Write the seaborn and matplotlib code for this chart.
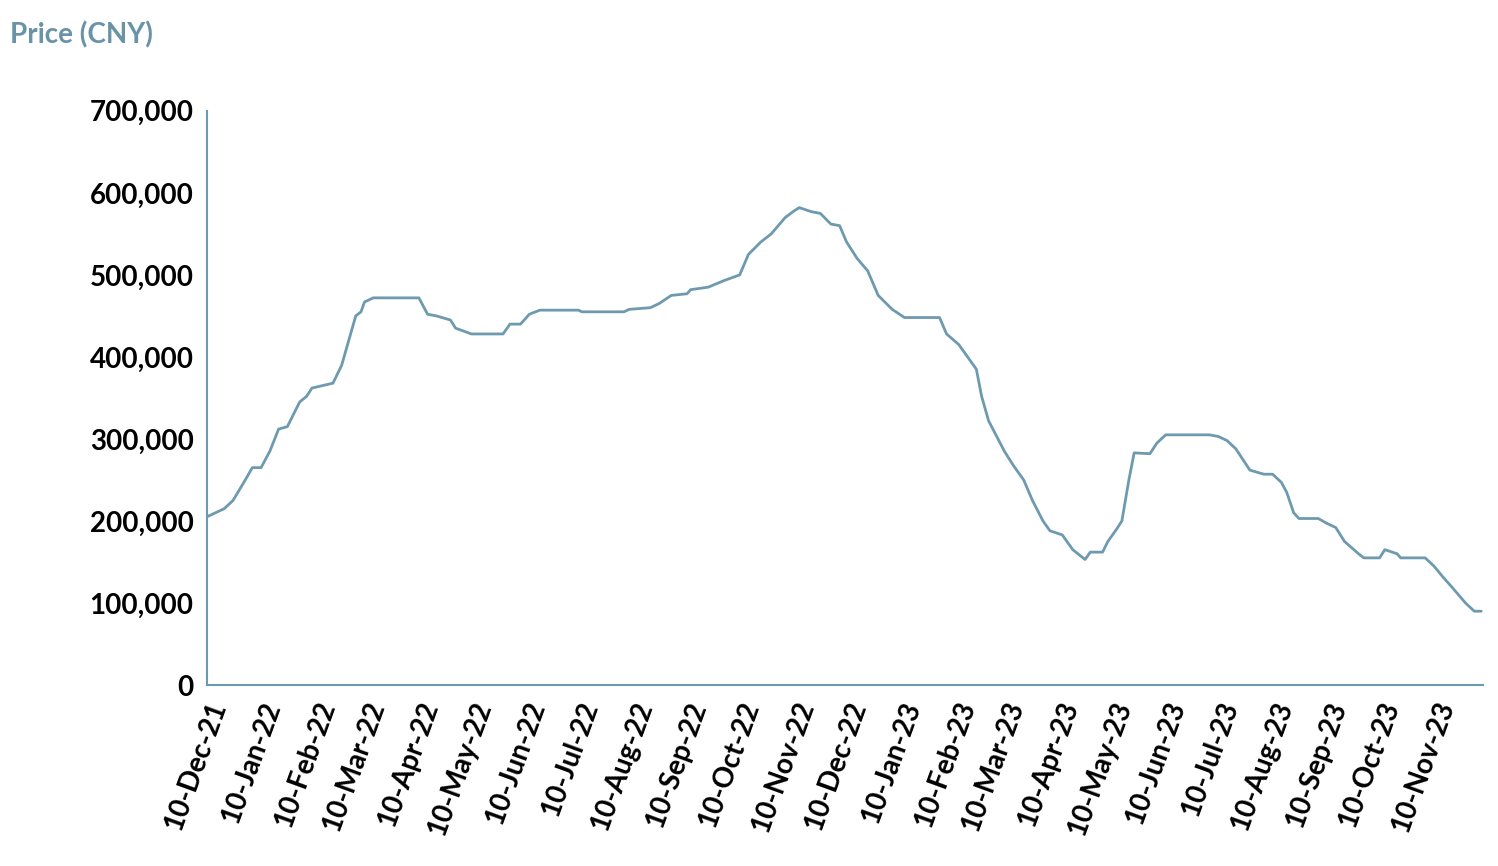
import matplotlib
matplotlib.use("Agg")
import matplotlib.pyplot as plt
import matplotlib.dates as mdates
import seaborn as sns
import pandas as pd

dates = ["2021-12-10","2021-12-20","2021-12-25","2022-01-01","2022-01-05","2022-01-10","2022-01-15","2022-01-20","2022-01-25",
"2022-02-01","2022-02-05","2022-02-08","2022-02-20","2022-02-25","2022-03-01","2022-03-05","2022-03-08","2022-03-10","2022-03-15",
"2022-04-10","2022-04-15","2022-04-20","2022-04-28","2022-05-01","2022-05-10","2022-05-28","2022-06-01","2022-06-07","2022-06-12",
"2022-06-18","2022-07-10","2022-07-12","2022-08-05","2022-08-08","2022-08-20","2022-08-25","2022-09-01","2022-09-10","2022-09-12",
"2022-09-22","2022-10-01","2022-10-10","2022-10-15","2022-10-22","2022-10-28","2022-11-05","2022-11-10","2022-11-13","2022-11-20",
"2022-11-25","2022-12-01","2022-12-06","2022-12-10","2022-12-16","2022-12-22","2022-12-28","2023-01-05","2023-01-12","2023-02-01",
"2023-02-05","2023-02-12","2023-02-17","2023-02-22","2023-02-25","2023-03-01","2023-03-10","2023-03-15","2023-03-21","2023-03-26",
"2023-04-01","2023-04-05","2023-04-12","2023-04-18","2023-04-25","2023-04-28","2023-05-05","2023-05-08","2023-05-13","2023-05-16",
"2023-05-20","2023-05-23","2023-06-01","2023-06-05","2023-06-10","2023-07-05","2023-07-10","2023-07-15","2023-07-20","2023-07-28",
"2023-08-05","2023-08-10","2023-08-15","2023-08-18","2023-08-22","2023-08-25","2023-09-05","2023-09-10","2023-09-15","2023-09-20",
"2023-09-28","2023-10-01","2023-10-10","2023-10-13","2023-10-20","2023-10-22","2023-11-05","2023-11-10","2023-11-15","2023-11-20",
"2023-11-28","2023-12-03","2023-12-07"]
prices = [205,215,225,250,265,265,285,312,315,
345,352,362,368,390,420,450,455,467,472,
472,452,450,445,435,428,428,440,440,452,
457,457,455,455,458,460,465,475,477,482,
485,493,500,525,540,550,570,578,582,577,
575,562,560,540,520,505,475,458,448,448,
428,415,400,385,352,322,285,268,250,225,
200,188,183,165,153,162,162,175,190,200,
250,283,282,295,305,305,303,298,288,262,
257,257,247,235,210,203,203,197,192,175,
160,155,155,165,160,155,155,145,132,120,
100,90,90]

df = pd.DataFrame({"date": pd.to_datetime(dates), "price": [p*1000 for p in prices]})
c = "#6E9AAF"
sns.set_style("white")
plt.rcParams['font.family'] = ['Lato', 'DejaVu Sans']
fig = plt.figure(figsize=(14.98, 8.66), dpi=100)
ax = fig.add_axes([0.138, 0.209, 0.852, 0.663])
sns.lineplot(data=df, x="date", y="price", ax=ax, color=c, linewidth=2)
ax.set_xlim(pd.Timestamp("2021-12-10"), pd.Timestamp("2023-12-08"))
ax.set_ylim(0, 700000)
ax.set_yticks(range(0, 700001, 100000))
ax.yaxis.set_major_formatter(matplotlib.ticker.FuncFormatter(lambda v, p: f"{int(v):,}"))
ax.xaxis.set_major_locator(mdates.MonthLocator(bymonthday=10))
ax.xaxis.set_major_formatter(mdates.DateFormatter("%d-%b-%y"))
for s in ["top", "right"]:
    ax.spines[s].set_visible(False)
for s in ["left", "bottom"]:
    ax.spines[s].set_color(c); ax.spines[s].set_linewidth(1.5)
ax.tick_params(axis="both", direction="out", length=6, color=c, width=1.5, labelsize=20, labelcolor="black")
for lab in ax.get_xticklabels():
    lab.set_rotation(70); lab.set_ha("right"); lab.set_rotation_mode("anchor"); lab.set_fontweight("bold")
for lab in ax.get_yticklabels():
    lab.set_fontweight("bold")
ax.set_xlabel(""); ax.set_ylabel("")
fig.text(0.007, 0.96, "Price (CNY)", color="#6A93A8", fontsize=20, fontweight="bold", va="center")
fig.savefig("out.png", dpi=100)
